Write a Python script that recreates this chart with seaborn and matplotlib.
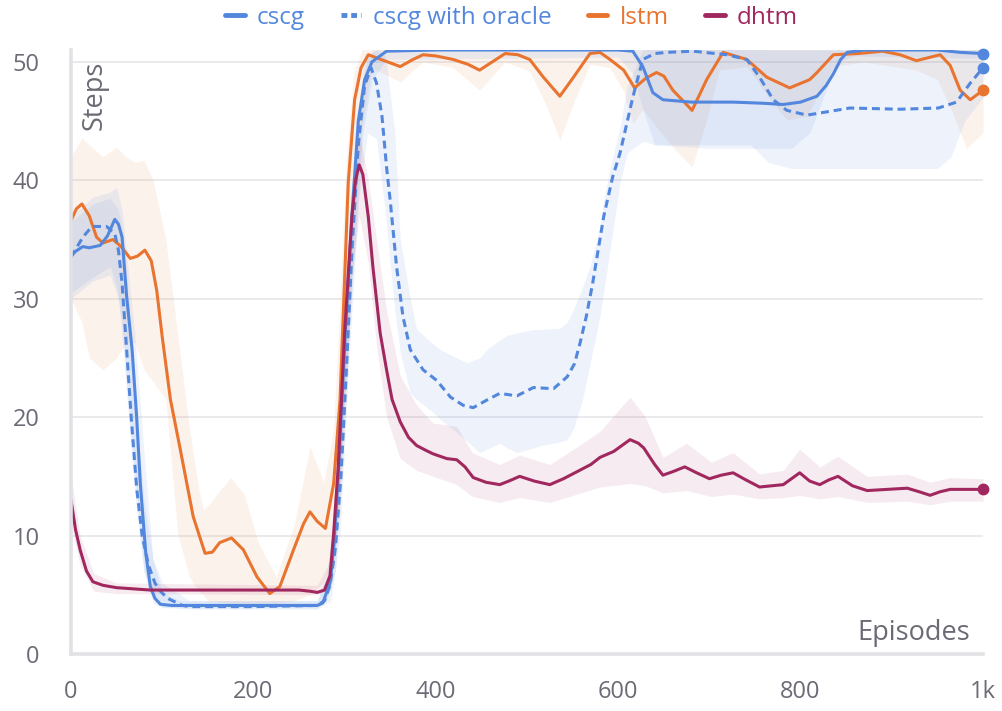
import numpy as np
import matplotlib
matplotlib.use("Agg")
import matplotlib.pyplot as plt
import seaborn as sns
from matplotlib.lines import Line2D

sns.set_theme(style="white")
plt.rcParams['font.family'] = ['Open Sans', 'DejaVu Sans']

# colours
C_CSCG = "#5387DD"
C_LSTM = "#E8742F"
C_DHTM = "#A1285F"

# ---- cscg (solid) ----
cscg_x = [0, 5, 13, 20, 32, 40, 48, 52, 56, 61, 67, 72, 76, 82, 87, 92, 98, 110, 150, 200, 250,
          270, 276, 284, 288, 293, 300, 308, 315, 322, 330, 346, 400, 450, 500, 550, 600, 616, 627,
          638, 649, 680, 726, 760, 781, 800, 818, 828, 836, 844, 851, 870, 950, 975, 1000]
cscg_y = [33.6, 34.0, 34.4, 34.3, 34.5, 35.3, 36.7, 36.3, 35.2, 30.2, 25.7, 20.0, 14.4, 8.5, 5.7, 4.7,
          4.2, 4.1, 4.1, 4.1, 4.1, 4.1, 4.3, 6.0, 9.0, 15.0, 26.0, 37.0, 45.0, 48.5, 50.0, 50.9, 51.0,
          51.0, 51.0, 51.0, 51.0, 50.9, 49.6, 47.4, 46.8, 46.6, 46.6, 46.5, 46.4, 46.6, 47.1, 48.0,
          49.0, 50.2, 50.8, 51.0, 51.0, 50.8, 50.7]
cscg_band_x = [0, 24, 43, 50, 56, 62, 70, 80, 90, 100, 120, 270, 280, 290, 300, 310, 320, 330, 346,
               600, 616, 627, 640, 700, 790, 810, 825, 840, 860, 1000]
cscg_lo = [30.5, 31.8, 32.7, 31.0, 28.0, 22.0, 15.0, 7.0, 4.3, 3.9, 3.9, 3.9, 4.5, 7.0, 21.0, 33.0,
           44.0, 48.5, 50.2, 50.4, 49.0, 46.0, 43.0, 42.7, 42.7, 44.0, 47.0, 50.0, 50.5, 50.3]
cscg_hi = [36.9, 38.6, 39.0, 39.4, 37.5, 33.0, 27.0, 17.0, 8.0, 5.2, 4.5, 4.5, 6.5, 13.0, 30.0, 41.0,
           49.5, 51.0, 51.4, 51.4, 51.4, 51.3, 51.2, 51.2, 51.2, 51.3, 51.4, 51.4, 51.4, 51.3]

# ---- cscg with oracle (dashed) ----
orc_x = [0, 13, 23, 39, 48, 52, 56, 61, 66, 72, 78, 85, 92, 98, 106, 114, 122, 130, 200, 270, 278,
         284, 290, 296, 302, 308, 315, 322, 329, 335, 341, 346, 350, 357, 364, 372, 386, 401, 416, 430,
         441, 455, 470, 489, 507, 529, 544, 552, 558, 565, 572, 584, 594, 602, 616, 627, 640, 653, 682,
         719, 741, 755, 770, 785, 807, 854, 909, 951, 971, 986, 1000]
orc_y = [33.5, 35.2, 36.1, 36.1, 35.5, 34.1, 31.3, 25.7, 20.0, 14.0, 10.0, 7.5, 6.0, 5.3, 4.7, 4.4,
         4.1, 4.0, 4.0, 4.1, 4.5, 5.8, 9.0, 15.0, 24.0, 34.0, 43.0, 48.0, 49.5, 48.2, 45.4, 41.1, 38.3,
         32.7, 28.5, 25.7, 24.0, 23.1, 21.7, 21.0, 20.8, 21.4, 22.0, 21.8, 22.5, 22.4, 23.4, 24.5, 26.2,
         28.5, 31.3, 36.9, 40.3, 42.3, 47.0, 50.2, 50.7, 50.8, 50.9, 50.6, 50.2, 48.7, 46.8, 45.9, 45.5,
         46.1, 46.0, 46.1, 46.6, 48.2, 49.5]
orc_band_x = [0, 24, 43, 52, 58, 65, 72, 80, 90, 100, 130, 270, 285, 295, 305, 315, 325, 335, 345,
              355, 361, 372, 379, 397, 405, 423, 434, 448, 456, 470, 478, 489, 507, 514, 536, 544, 551,
              561, 569, 580, 584, 591, 602, 610, 627, 640, 700, 745, 765, 790, 950, 965, 980, 1000]
orc_lo = [30.0, 31.5, 32.0, 30.0, 25.0, 18.0, 12.0, 7.0, 4.8, 4.0, 3.8, 3.8, 4.5, 10.0, 25.0, 38.0,
          44.0, 43.5, 37.0, 29.0, 25.5, 22.0, 21.5, 20.4, 19.8, 18.7, 18.0, 17.0, 17.3, 17.8, 17.4,
          17.0, 17.4, 17.6, 17.9, 18.1, 19.0, 21.5, 24.5, 28.5, 30.5, 34.1, 39.8, 42.3, 43.3, 43.0,
          43.0, 43.0, 41.5, 41.0, 41.0, 42.0, 45.0, 47.0]
orc_hi = [36.5, 38.0, 38.5, 37.5, 35.0, 28.0, 20.0, 13.0, 8.0, 6.0, 4.5, 4.5, 7.5, 18.0, 33.0, 46.0,
          50.5, 51.0, 50.5, 44.0, 35.0, 30.0, 27.4, 26.2, 25.7, 25.0, 24.6, 25.0, 25.7, 26.5, 26.9,
          27.1, 27.4, 27.4, 27.5, 28.0, 29.1, 31.0, 32.7, 36.0, 38.3, 41.0, 44.5, 48.0, 51.0, 51.2,
          51.3, 51.2, 51.0, 51.0, 51.0, 51.0, 51.0, 51.0]

# ---- lstm ----
lstm_x = [0, 6, 12, 20, 28, 35, 46, 55, 65, 73, 81, 88, 94, 100, 109, 120, 134, 147, 155, 163, 176,
          189, 204, 218, 229, 244, 255, 262, 270, 279, 288, 295, 304, 311, 318, 326, 340, 361, 375,
          386, 400, 419, 435, 448, 462, 476, 490, 503, 518, 536, 551, 569, 580, 591, 606, 618, 630,
          642, 650, 660, 670, 681, 697, 715, 741, 763, 788, 810, 818, 836, 863, 890, 909, 927, 953,
          964, 975, 986, 1000]
lstm_y = [36.6, 37.6, 38.0, 37.0, 35.2, 34.7, 35.0, 34.4, 33.4, 33.6, 34.1, 33.2, 30.7, 26.8, 21.5,
          17.2, 11.6, 8.5, 8.6, 9.4, 9.8, 8.8, 6.5, 5.1, 5.7, 8.8, 11.0, 12.0, 11.2, 10.6, 14.4, 21.5,
          39.8, 46.8, 49.5, 50.6, 50.2, 49.6, 50.2, 50.6, 50.5, 50.2, 49.8, 49.3, 50.0, 50.7, 50.6,
          50.2, 48.7, 47.1, 48.7, 50.7, 50.8, 50.2, 49.3, 47.8, 48.6, 49.1, 48.8, 47.6, 46.8, 45.9,
          48.5, 50.8, 50.2, 48.7, 47.8, 48.5, 49.1, 50.6, 50.7, 50.9, 50.6, 50.1, 50.6, 49.7, 47.6,
          46.8, 47.6]
lstm_band_x = [0, 12, 20, 35, 50, 60, 70, 80, 90, 104, 117, 130, 140, 145, 150, 160, 175, 190, 205,
               225, 245, 262, 277, 288, 295, 302, 310, 320, 330, 361, 386, 419, 448, 476, 503, 520,
               536, 551, 569, 591, 606, 616, 627, 642, 660, 681, 697, 711, 741, 765, 785, 807, 836,
               870, 927, 950, 965, 982, 1000]
lstm_lo = [30.0, 28.0, 25.0, 24.0, 25.0, 26.3, 26.3, 24.0, 23.0, 21.5, 10.1, 6.5, 5.3, 5.0, 4.5,
           4.4, 4.3, 4.3, 4.3, 4.3, 4.5, 5.0, 6.1, 8.0, 12.0, 22.0, 36.0, 45.0, 49.5, 48.3, 50.0,
           49.5, 47.6, 50.0, 49.2, 46.5, 43.4, 46.5, 49.8, 49.5, 47.5, 44.8, 46.0, 44.5, 42.8, 41.1,
           45.1, 49.3, 49.6, 47.0, 45.1, 45.4, 49.6, 50.0, 49.3, 48.5, 46.0, 42.7, 44.0]
lstm_hi = [42.0, 43.6, 43.0, 42.0, 42.8, 42.0, 41.5, 41.7, 40.0, 35.0, 27.0, 19.0, 14.0, 12.2, 12.5,
           13.5, 14.9, 13.5, 9.5, 6.5, 11.0, 17.5, 14.5, 19.0, 30.0, 42.0, 49.0, 51.3, 51.5, 51.5,
           51.5, 51.5, 51.5, 51.5, 51.5, 51.5, 51.5, 51.5, 51.5, 51.5, 51.5, 51.5, 51.5, 51.5, 51.5,
           51.5, 51.5, 51.5, 51.5, 51.5, 51.5, 51.5, 51.5, 51.5, 51.5, 51.5, 51.5, 51.5, 51.5]

# ---- dhtm ----
dhtm_x = [0, 5, 10, 17, 24, 35, 50, 87, 150, 200, 250, 262, 270, 278, 284, 288, 293, 300, 308, 312,
          316, 320, 326, 331, 335, 339, 346, 352, 361, 370, 379, 389, 397, 412, 423, 432, 441, 455,
          470, 480, 492, 508, 525, 540, 555, 570, 580, 595, 613, 622, 628, 640, 649, 660, 673, 686,
          700, 713, 726, 740, 755, 768, 781, 790, 799, 810, 821, 831, 841, 857, 873, 895, 917, 930,
          942, 953, 964, 1000]
dhtm_y = [13.0, 10.5, 8.8, 7.0, 6.1, 5.8, 5.6, 5.4, 5.4, 5.4, 5.4, 5.3, 5.2, 5.4, 6.6, 10.2, 15.8,
          27.1, 36.9, 40.0, 41.3, 40.5, 36.9, 32.7, 29.9, 27.1, 24.0, 21.5, 19.6, 18.3, 17.6, 17.2,
          16.9, 16.5, 16.4, 15.8, 14.9, 14.5, 14.3, 14.6, 15.0, 14.6, 14.3, 14.8, 15.4, 16.0, 16.6,
          17.1, 18.1, 17.8, 17.4, 16.0, 15.1, 15.4, 15.8, 15.3, 14.8, 15.1, 15.3, 14.7, 14.1, 14.2,
          14.3, 14.8, 15.3, 14.6, 14.3, 14.7, 15.0, 14.2, 13.8, 13.9, 14.0, 13.7, 13.4, 13.7, 13.9,
          13.9]
dhtm_band_x = [0, 10, 25, 50, 270, 285, 293, 300, 308, 316, 326, 335, 346, 361, 379, 397, 423, 440,
               470, 492, 525, 555, 580, 613, 630, 649, 675, 702, 726, 755, 781, 799, 821, 841, 873,
               917, 942, 964, 1000]
dhtm_lo = [11.0, 7.5, 5.3, 5.1, 5.0, 5.5, 12.0, 22.0, 32.0, 37.0, 33.0, 26.0, 20.0, 16.5, 15.5, 15.0,
           14.3, 13.3, 12.8, 13.2, 12.8, 13.5, 14.1, 14.4, 14.2, 13.6, 13.8, 13.3, 13.5, 13.1, 13.2,
           13.4, 13.1, 13.3, 12.8, 12.9, 12.6, 12.9, 12.9]
dhtm_hi = [15.0, 10.0, 6.8, 6.0, 5.8, 8.0, 20.0, 31.0, 40.0, 44.0, 40.0, 35.0, 29.0, 23.5, 21.0,
           19.5, 19.2, 17.0, 16.0, 16.8, 16.0, 17.5, 18.8, 21.7, 20.0, 16.6, 17.8, 16.2, 17.0, 15.2,
           15.5, 17.3, 15.8, 16.7, 15.0, 15.2, 14.5, 14.9, 14.8]

x_ticks = [0, 200, 400, 600, 800, 1000]
x_tick_labels = ["0", "200", "400", "600", "800", "1k"]
y_ticks = [0, 10, 20, 30, 40, 50]

fig = plt.figure(figsize=(10.03, 7.11), dpi=100)
ax = fig.add_axes([71 / 1003, 1 - 654 / 711, 912 / 1003, 604 / 711])

# bands
ax.fill_between(lstm_band_x, lstm_lo, lstm_hi, color=C_LSTM, alpha=0.09, lw=0)
ax.fill_between(cscg_band_x, cscg_lo, cscg_hi, color=C_CSCG, alpha=0.10, lw=0)
ax.fill_between(orc_band_x, orc_lo, orc_hi, color=C_CSCG, alpha=0.10, lw=0)
ax.fill_between(dhtm_band_x, dhtm_lo, dhtm_hi, color=C_DHTM, alpha=0.09, lw=0)

# lines
lw = 2.2
kw = dict(solid_joinstyle="round", solid_capstyle="round")
sns.lineplot(x=lstm_x, y=lstm_y, ax=ax, color=C_LSTM, lw=lw, **kw)
sns.lineplot(x=cscg_x, y=cscg_y, ax=ax, color=C_CSCG, lw=lw, **kw)
sns.lineplot(x=orc_x, y=orc_y, ax=ax, color=C_CSCG, lw=lw, linestyle=(0, (2.6, 1.6)))
sns.lineplot(x=dhtm_x, y=dhtm_y, ax=ax, color=C_DHTM, lw=lw, **kw)

for xs, ys, c in [(cscg_x, cscg_y, C_CSCG), (orc_x, orc_y, C_CSCG),
                  (lstm_x, lstm_y, C_LSTM), (dhtm_x, dhtm_y, C_DHTM)]:
    ax.plot(xs[-1], ys[-1], 'o', color=c, ms=7.5, clip_on=False, zorder=5)

ax.set_xlim(0, 1000)
ax.set_ylim(0, 51)
ax.set_xticks(x_ticks)
ax.set_xticklabels(x_tick_labels)
ax.set_yticks(y_ticks)
ax.set_xlabel("")
ax.set_ylabel("")

axis_gray = "#e2e2e6"
label_gray = "#6b6b76"
for s in ["top", "right"]:
    ax.spines[s].set_visible(False)
for s in ["left", "bottom"]:
    ax.spines[s].set_color(axis_gray)
    ax.spines[s].set_linewidth(2.6)
ax.tick_params(axis="both", direction="inout", length=19, width=2.2, color=axis_gray,
               labelsize=17, labelcolor=label_gray)
ax.tick_params(axis="y", pad=13)
ax.tick_params(axis="x", pad=9)
ax.yaxis.grid(True, color="#e6e6ea", lw=1.2)
ax.xaxis.grid(False)
ax.set_axisbelow(True)

ax.text(0.026, 0.982, "Steps", rotation=90, transform=ax.transAxes, ha="center", va="top",
        fontsize=19.5, color=label_gray)
ax.text(0.986, 0.023, "Episodes", transform=ax.transAxes, ha="right", va="baseline",
        fontsize=19.5, color=label_gray)

handles = [Line2D([], [], color=C_CSCG, lw=3.5),
           Line2D([], [], color=C_CSCG, lw=3.5, linestyle=(0, (1.2, 0.8))),
           Line2D([], [], color=C_LSTM, lw=3.5),
           Line2D([], [], color=C_DHTM, lw=3.5)]
labels = ["cscg", "cscg with oracle", "lstm", "dhtm"]
fig.legend(handles, labels, loc="upper center", bbox_to_anchor=(0.51, 1.023), ncol=4,
           frameon=False, fontsize=17.5, handlelength=0.8, handletextpad=0.5, columnspacing=1.5,
           labelcolor="linecolor")

fig.savefig("out.png", dpi=100)
